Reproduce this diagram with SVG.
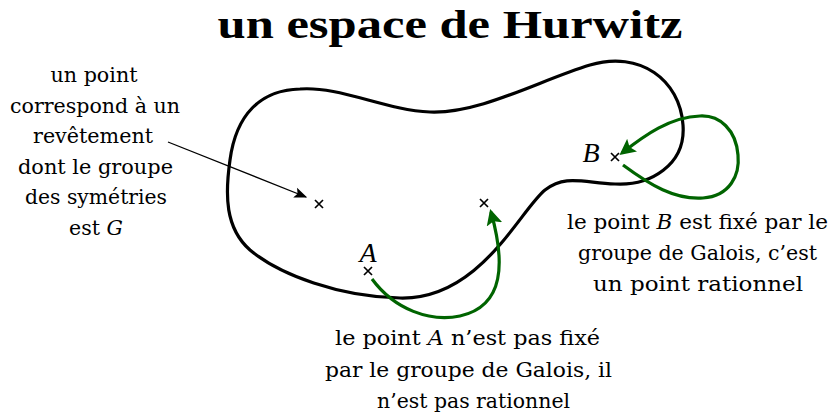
<svg xmlns="http://www.w3.org/2000/svg" width="830" height="412" viewBox="0 0 830 412">
<style>
.title{font-family:"Liberation Serif",serif;font-size:40px;font-weight:bold;text-anchor:middle;fill:#000}
.lbl{font-family:"Liberation Serif",serif;font-size:28px;font-style:italic;text-anchor:middle;fill:#000}
.curve{fill:none;stroke:#000;stroke-width:3.2}
.cross{stroke:#000;stroke-width:1.7;fill:none}
.green{fill:none;stroke:#006400;stroke-width:3.2}
.black{fill:none;stroke:#000;stroke-width:1.3}
</style>
<defs>
<marker id="ga" viewBox="0 0 10 10" refX="8" refY="5" markerWidth="5" markerHeight="5" markerUnits="strokeWidth" orient="auto"><path d="M0 0 L10 5 L0 10 L2 5 Z" fill="#006400"/></marker>
<marker id="ba" viewBox="0 0 10 10" refX="9" refY="5" markerWidth="10" markerHeight="10" markerUnits="strokeWidth" orient="auto"><path d="M0 1 L10 5 L0 9 L2 5 Z" fill="#000"/></marker>
<g id="x"><path d="M-4 -4 L4 4 M-4 4 L4 -4"/></g>
</defs>
<text class="title" x="450" y="38" textLength="465" lengthAdjust="spacingAndGlyphs">un espace de Hurwitz</text>
<g id="space">
<path class="curve" d="M300 89 C340 86 385 110 430 112 C480 114 540 80 590 65 C640 50 680 80 683 125 C686 165 650 186 615 184 C580 182 565 175 545 190 C520 210 480 300 400 298 C340 297 280 275 250 250 C225 228 225 195 230 160 C236 115 260 90 300 89 Z"/>
</g>
<g id="p1" class="cross"><use href="#x" x="319" y="204"/></g>
<g id="p2" class="cross"><use href="#x" x="484" y="203"/></g>
<g id="pA"><use href="#x" x="368" y="271" class="cross"/><text class="lbl" x="368" y="262">A</text></g>
<g id="pB"><use href="#x" x="615" y="157" class="cross"/><text class="lbl" x="591" y="162">B</text></g>
<g id="connectors">
<path class="black" d="M168 142 L306 197" marker-end="url(#ba)"/>
<path class="green" d="M372 279 C395 310 430 322 460 316 C505 306 505 262 491 212" marker-end="url(#ga)"/>
<path class="green" d="M623 165 C650 185 675 200 703 198 C730 196 740 175 738 155 C736 130 720 115 700 116 C670 117 645 135 622 153" marker-end="url(#ga)"/>
</g>
<g id="labelLeft" fill="#000">
<text font-family="DejaVu Serif" font-size="20.5" text-anchor="middle" x="94" y="82" textLength="87" lengthAdjust="spacingAndGlyphs">un point</text>
<text font-family="DejaVu Serif" font-size="20.5" text-anchor="middle" x="95" y="112.5" textLength="170" lengthAdjust="spacingAndGlyphs">correspond à un</text>
<text font-family="DejaVu Serif" font-size="20.5" text-anchor="middle" x="93" y="143" textLength="120" lengthAdjust="spacingAndGlyphs">revêtement</text>
<text font-family="DejaVu Serif" font-size="20.5" text-anchor="middle" x="95.5" y="173.5" textLength="155" lengthAdjust="spacingAndGlyphs">dont le groupe</text>
<text font-family="DejaVu Serif" font-size="20.5" text-anchor="middle" x="96" y="204" textLength="142" lengthAdjust="spacingAndGlyphs">des symétries</text>
<text font-family="DejaVu Serif" font-size="20.5" text-anchor="middle" x="96" y="234.5">est <tspan font-style="italic">G</tspan></text>
</g>
<g id="labelA" fill="#000">
<text font-family="DejaVu Serif" font-size="20.5" text-anchor="middle" x="467.5" y="345" textLength="265" lengthAdjust="spacingAndGlyphs">le point <tspan font-style="italic">A</tspan> n’est pas fixé</text>
<text font-family="DejaVu Serif" font-size="20.5" text-anchor="middle" x="468.5" y="377" textLength="287" lengthAdjust="spacingAndGlyphs">par le groupe de Galois, il</text>
<text font-family="DejaVu Serif" font-size="20.5" text-anchor="middle" x="473.5" y="408" textLength="193" lengthAdjust="spacingAndGlyphs">n’est pas rationnel</text>
</g>
<g id="labelB" fill="#000">
<text font-family="DejaVu Serif" font-size="20.5" text-anchor="middle" x="697.5" y="229" textLength="261" lengthAdjust="spacingAndGlyphs">le point <tspan font-style="italic">B</tspan> est fixé par le</text>
<text font-family="DejaVu Serif" font-size="20.5" text-anchor="middle" x="697.5" y="260" textLength="239" lengthAdjust="spacingAndGlyphs">groupe de Galois, c’est</text>
<text font-family="DejaVu Serif" font-size="20.5" text-anchor="middle" x="698" y="291" textLength="210" lengthAdjust="spacingAndGlyphs">un point rationnel</text>
</g>
</svg>
